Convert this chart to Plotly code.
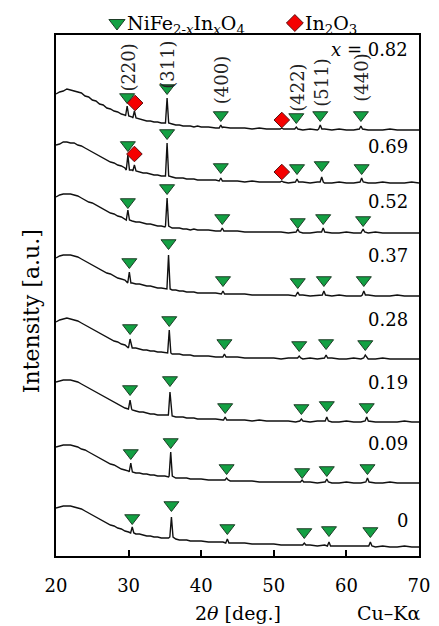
import plotly.graph_objects as go

# ---------------- data ----------------
compositions = ["0.82", "0.69", "0.52", "0.37", "0.28", "0.19", "0.09", "0"]
offsets = [426, 373, 323, 260, 197, 134, 73, 9]          # stacking offset of each pattern
label_h = [80, 36, 31, 40, 40, 40, 40, 27]               # composition label height above pattern baseline

grid = [20, 20.5, 21, 21.5, 22, 22.5, 23, 23.5, 24, 24.5, 25, 25.5, 26, 26.5, 27, 27.5,
        28, 28.5, 29, 29.5, 30, 30.5, 31, 31.5, 32, 32.5, 33, 33.5, 34, 34.5, 35, 35.5,
        36, 36.5, 37, 37.5, 38, 38.5, 39, 39.5, 40,
        41, 42, 43, 44, 45, 46, 47, 48, 49, 50, 51, 52, 53, 54, 55, 56, 57, 58, 59, 60,
        61, 62, 63, 64, 65, 66, 67, 68, 69, 70]

bg = {
    "0.82": [36, 38, 39, 41, 40, 39, 38, 37, 34, 33, 30, 29, 26, 25, 22, 21, 19, 18, 16, 15, 13, 13, 11, 11,
             10, 9, 9, 8, 8, 7, 7, 6, 6, 5, 5, 4, 4, 4, 3, 4, 3,
             3, 2, 3, 2, 2, 2, 1, 2, 1, 1, 1, 1, 1, 0, 1, 0, 1, 0, 1, 0, 0, 1, 0, 0, 0, 1, 0, 0, 0, 0],
    "0.69": [38, 39, 41, 41, 40, 40, 38, 37, 35, 33, 31, 29, 27, 25, 23, 21, 20, 18, 17, 15, 14, 13, 12, 11,
             10, 10, 9, 8, 8, 7, 7, 6, 6, 5, 5, 5, 4, 4, 4, 3, 3,
             3, 3, 2, 2, 2, 1, 2, 1, 1, 1, 1, 0, 1, 1, 0, 1, 0, 0, 1, 0, 0, 1, 0, 0, 1, 0, 0, 0, 1, 0],
    "0.52": [36, 38, 39, 39, 39, 38, 37, 35, 33, 31, 30, 28, 26, 24, 22, 20, 19, 17, 16, 14, 13, 12, 11, 11,
             10, 9, 9, 8, 7, 7, 6, 6, 5, 5, 5, 4, 4, 3, 4, 3, 3,
             3, 2, 2, 2, 2, 1, 1, 1, 1, 1, 1, 0, 1, 0, 0, 1, 0, 0, 0, 1, 0, 0, 0, 1, 0, 0, 0, 0, 0, 0],
    "0.37": [38, 40, 41, 41, 41, 40, 39, 37, 35, 33, 31, 29, 27, 25, 23, 22, 20, 18, 17, 16, 14, 13, 12, 12,
             11, 10, 10, 9, 8, 8, 7, 7, 6, 6, 5, 5, 4, 4, 4, 3, 3,
             3, 3, 2, 2, 2, 2, 1, 1, 1, 1, 1, 1, 0, 1, 0, 1, 0, 0, 1, 0, 0, 0, 1, 0, 0, 0, 1, 0, 0, 0],
    "0.28": [37, 39, 40, 41, 40, 39, 38, 36, 34, 32, 30, 28, 26, 24, 22, 20, 18, 17, 15, 14, 12, 11, 11, 10,
             9, 9, 8, 8, 7, 7, 6, 6, 5, 5, 5, 4, 4, 4, 3, 3, 3,
             3, 2, 2, 2, 2, 1, 1, 1, 1, 1, 0, 1, 1, 0, 1, 0, 0, 1, 0, 0, 1, 0, 0, 0, 1, 0, 0, 0, 0, 0],
    "0.19": [40, 41, 42, 42, 42, 41, 40, 38, 36, 34, 32, 30, 28, 26, 24, 22, 20, 18, 16, 14, 13, 12, 11, 10,
             10, 9, 8, 8, 7, 7, 7, 6, 6, 5, 5, 5, 4, 4, 4, 3, 3,
             3, 3, 2, 2, 2, 2, 1, 2, 1, 1, 1, 1, 0, 1, 0, 1, 1, 0, 0, 1, 0, 0, 1, 0, 0, 0, 0, 1, 0, 0],
    "0.09": [36, 37, 38, 38, 38, 37, 36, 34, 33, 31, 29, 27, 25, 23, 21, 19, 18, 16, 14, 13, 12, 11, 10, 10,
             9, 9, 8, 8, 7, 7, 7, 6, 6, 5, 5, 5, 5, 4, 4, 4, 4,
             3, 3, 3, 2, 2, 2, 2, 1, 1, 1, 1, 1, 1, 0, 1, 0, 1, 0, 0, 1, 0, 0, 1, 0, 0, 1, 0, 0, 0, 0],
    "0": [39, 40, 41, 41, 41, 40, 39, 38, 36, 34, 32, 30, 28, 26, 24, 22, 21, 19, 18, 16, 15, 14, 13, 13,
          12, 11, 11, 10, 10, 9, 9, 9, 8, 8, 7, 7, 7, 6, 6, 6, 6,
          5, 5, 5, 4, 4, 4, 3, 3, 3, 3, 2, 2, 2, 2, 2, 1, 2, 1, 1, 1, 1, 1, 1, 0, 1, 0, 0, 1, 0, 0],
}

# peaks: (2theta, local background, tip) relative to pattern baseline
peaks = {
    "0.82": [(29.8, 14, 24), (30.8, 12, 19), (35.3, 7, 32), (42.7, 2, 5), (51.1, 1, 2),
             (53.1, 1, 3), (56.4, 1, 5), (62.0, 1, 4)],
    "0.69": [(29.9, 13, 28), (30.8, 12, 18), (35.3, 7, 40), (42.7, 2, 5), (51.1, 1, 2),
             (53.2, 1, 4), (56.6, 1, 6), (62.1, 1, 5)],
    "0.52": [(29.9, 13, 23), (35.3, 7, 35), (42.9, 2, 5), (53.3, 1, 4), (56.8, 1, 5), (62.3, 1, 4)],
    "0.37": [(30.1, 13, 24), (35.5, 7, 41), (43.0, 2, 5), (53.3, 1, 4), (56.9, 1, 5), (62.4, 1, 5)],
    "0.28": [(30.2, 11, 20), (35.6, 6, 29), (43.2, 2, 5), (53.5, 1, 3), (57.2, 1, 4), (62.6, 1, 4)],
    "0.19": [(30.2, 13, 22), (35.7, 7, 30), (43.3, 2, 5), (53.8, 1, 3), (57.3, 1, 5), (62.8, 1, 5)],
    "0.09": [(30.3, 11, 20), (35.8, 7, 31), (43.5, 3, 5), (53.9, 1, 3), (57.3, 1, 4), (62.9, 1, 5)],
    "0": [(30.5, 14, 20), (35.9, 10, 30), (43.6, 4, 8), (54.2, 2, 4), (57.6, 1, 5), (63.3, 1, 5)],
}

# NiFe2-xInxO4 marker positions (2theta, height above pattern baseline)
spinel_marks = {
    "0.82": [(29.8, 33), (35.3, 42), (42.7, 15), (53.1, 13), (56.4, 15), (62.0, 15)],
    "0.69": [(29.9, 38), (35.3, 50), (42.7, 16), (53.2, 15), (56.6, 18), (62.1, 15)],
    "0.52": [(29.9, 31), (35.3, 45), (42.9, 15), (53.3, 11), (56.8, 15), (62.3, 13)],
    "0.37": [(30.1, 34), (35.5, 53), (43.0, 16), (53.3, 14), (56.9, 16), (62.4, 16)],
    "0.28": [(30.2, 31), (35.6, 39), (43.2, 16), (53.5, 14), (57.2, 16), (62.6, 15)],
    "0.19": [(30.2, 33), (35.7, 42), (43.3, 15), (53.8, 14), (57.3, 17), (62.8, 15)],
    "0.09": [(30.3, 30), (35.8, 41), (43.5, 15), (53.9, 11), (57.3, 13), (62.9, 15)],
    "0": [(30.5, 29), (35.9, 42), (43.6, 19), (54.2, 15), (57.6, 17), (63.3, 16)],
}
# In2O3 marker positions
in2o3_marks = {
    "0.82": [(30.9, 27), (51.1, 10)],
    "0.69": [(30.8, 29), (51.1, 11)],
}

hkl_labels = ["(220)", "(311)", "(400)", "(422)", "(511)", "(440)"]
hkl_x = [30.0, 35.4, 42.9, 53.3, 56.6, 62.1]
hkl_h = [62, 65, 50, 42, 47, 52]          # above top pattern baseline

x_ticks = [20, 30, 40, 50, 60, 70]

legend_names = ["NiFe<sub>2-<i>x</i></sub>In<sub><i>x</i></sub>O<sub>4</sub>", "In<sub>2</sub>O<sub>3</sub>"]
legend_x = [28.4, 52.9]

# ---------------- figure ----------------
FONT = "DejaVu Serif"
GREEN = "#13a043"
GREEN_EDGE = "#1e3d27"
RED = "#f50000"
RED_EDGE = "#5a1010"
PEAK_HALF = 0.22
MAIN_TOP = 521 / 544      # main panel share of the plot height (rest holds the key)

fig = go.Figure()

for comp, off in zip(compositions, offsets):
    pk = peaks[comp]
    pts = [(g, v) for g, v in zip(grid, bg[comp])
           if all(abs(g - p[0]) > PEAK_HALF + 0.05 for p in pk)]
    for pos, base, tip in pk:
        pts += [(pos - PEAK_HALF, base), (pos, tip), (pos + PEAK_HALF, base)]
    pts.sort()
    fig.add_trace(go.Scatter(
        x=[p[0] for p in pts], y=[p[1] + off for p in pts],
        mode="lines", line=dict(color="#111111", width=1.4),
        showlegend=False, hoverinfo="skip"))

for comp, off in zip(compositions, offsets):
    m = spinel_marks[comp]
    fig.add_trace(go.Scatter(
        x=[a for a, _ in m], y=[b + off for _, b in m], mode="markers",
        marker=dict(symbol="triangle-down", size=13, color=GREEN,
                    line=dict(color=GREEN_EDGE, width=1)),
        showlegend=False, cliponaxis=False, hoverinfo="skip"))
    if comp in in2o3_marks:
        d = in2o3_marks[comp]
        fig.add_trace(go.Scatter(
            x=[a for a, _ in d], y=[b + off for _, b in d], mode="markers",
            marker=dict(symbol="diamond", size=12, color=RED,
                        line=dict(color=RED_EDGE, width=1)),
            showlegend=False, cliponaxis=False, hoverinfo="skip"))

# key above the frame (on its own small y axis)
fig.add_trace(go.Scatter(x=[legend_x[0]], y=[12], xaxis="x", yaxis="y2", mode="markers",
                         marker=dict(symbol="triangle-down", size=14, color=GREEN,
                                     line=dict(color=GREEN_EDGE, width=1)),
                         showlegend=False, cliponaxis=False, hoverinfo="skip"))
fig.add_trace(go.Scatter(x=[legend_x[1]], y=[12], xaxis="x", yaxis="y2", mode="markers",
                         marker=dict(symbol="diamond", size=13, color=RED,
                                     line=dict(color=RED_EDGE, width=1)),
                         showlegend=False, cliponaxis=False, hoverinfo="skip"))

ann = []
for name, lx in zip(legend_names, legend_x):
    ann.append(dict(x=lx + 1.1, y=11, xref="x", yref="y2", xanchor="left", yanchor="middle",
                    text=name, showarrow=False, font=dict(size=19, family=FONT, color="black")))

for comp, off, lh in zip(compositions, offsets, label_h):
    txt = "<i>x</i> = " + comp if comp == "0.82" else comp
    ann.append(dict(x=68.7, y=off + lh, xref="x", yref="y", xanchor="right", yanchor="middle",
                    text=txt, showarrow=False, font=dict(size=18, family=FONT, color="black")))

for lab, hx, hh in zip(hkl_labels, hkl_x, hkl_h):
    ann.append(dict(x=hx, y=offsets[0] + hh, xref="x", yref="y", textangle=-90,
                    xanchor="center", yanchor="middle", text=lab, showarrow=False,
                    font=dict(size=18, family=FONT, color="#222")))

ann.append(dict(x=0.5, y=-0.105, xref="paper", yref="paper", xanchor="center", yanchor="middle",
                text="2<i>θ</i> [deg.]", showarrow=False,
                font=dict(size=19, family=FONT, color="black")))
ann.append(dict(x=1.008, y=-0.105, xref="paper", yref="paper", xanchor="right", yanchor="middle",
                text="Cu–Kα", showarrow=False,
                font=dict(size=19, family=FONT, color="black")))
ann.append(dict(x=-0.069, y=0.45, xref="paper", yref="paper", xanchor="center", yanchor="middle",
                text="Intensity [a.u.]", textangle=-90, showarrow=False,
                font=dict(size=22, family=FONT, color="black")))

fig.update_layout(
    width=431, height=618,
    margin=dict(l=48, r=20, t=4, b=70),
    paper_bgcolor="white", plot_bgcolor="white",
    annotations=ann,
    xaxis=dict(range=[20, 70], tickvals=x_ticks, ticks="inside", ticklen=6, tickwidth=1.5,
               tickcolor="black", showline=True, linecolor="black", linewidth=2, mirror=True,
               showgrid=False, zeroline=False, ticklabelstandoff=12, anchor="y",
               tickfont=dict(size=18, family=FONT, color="black")),
    yaxis=dict(range=[0, 521], domain=[0, MAIN_TOP], showticklabels=False, ticks="",
               showline=True, linecolor="black", linewidth=2, mirror=True,
               showgrid=False, zeroline=False),
    yaxis2=dict(range=[0, 23], domain=[MAIN_TOP, 1], visible=False, anchor="x"),
)

fig.write_html("out.html")
